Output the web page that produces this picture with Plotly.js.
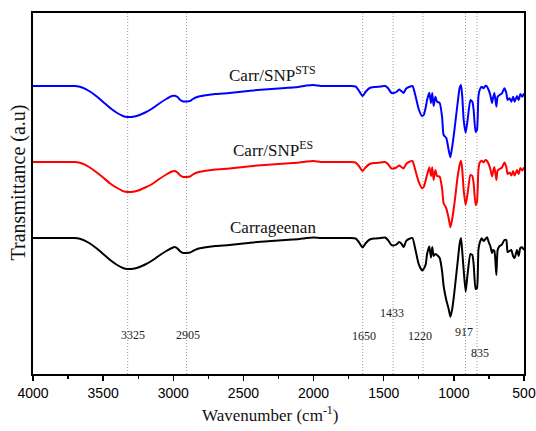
<!DOCTYPE html>
<html>
<head>
<meta charset="utf-8">
<script src="https://cdn.plot.ly/plotly-3.0.1.min.js"></script>
<style>html,body{margin:0;padding:0;background:#fff;}#chart{width:536px;height:431px;}</style>
</head>
<body>
<div id="chart"></div>
<script>
// Wavenumber grid (cm^-1)
const wavenumber = [4000,3900,3800,3700,3650,3600,3550,3500,3450,3400,3350,3325,3300,3250,3200,3150,3100,3050,3010,2990,2970,2950,2930,2905,2880,2860,2830,2780,2700,2600,2500,2400,2300,2200,2150,2100,2050,2000,1950,1900,1800,1740,1700,1680,1650,1630,1600,1570,1520,1490,1470,1445,1430,1410,1390,1375,1358,1340,1320,1295,1275,1251,1227,1215,1200,1191,1175,1163,1154,1144,1132,1120,1101,1084,1073,1054,1037,1025,1013,1002,990,973,959,949,940,930,916,902,882,868,859,845,835,825,816,802,788,775,763,752,740,728,721,711,697,688,674,657,640,626,617,603,590,578,567,550,538,526,512,500];

// Transmittance (a.u., stacked)
const carrSNP_STS = [288,288,288,288,286.5,283,278,272,266,261,257.5,257,257,258.5,261.5,265.5,270.5,275,278,278.3,277,274,272.5,272.5,273,275,277,278.5,280,281,282.5,284,285,286,286.5,287.3,288.5,289,288,288,288,288,287.5,284,278,282,286,287,287.5,288,286,281,281,282,284.5,283,281,285.5,287,288,279,265,258,259,267,274,281.3,271,281,268,277.3,272.3,271,257.3,239,236,224,216.7,226,237.3,251,271,286,289,277.3,254,241.3,254,274,272.3,264,242,244,277.3,284,287.3,285.7,288.3,287.3,284,279,271,276,281,267.3,277.3,279,280.7,285.7,281,274,275.7,272.3,277.3,272.3,278,274,280,277.3,280.7];

const carrSNP_ES = [212,212,212,212,210.5,207,202,196.5,190.5,186,182.5,182,182,183.5,186.5,190,195,199.5,202.5,203,201.5,198.5,197,197,197.5,199.5,201.5,203,204.5,205.5,207,208.5,209.5,210.5,211,211.5,212.5,213,212,212,212,212,211.5,208.5,203,206.5,210,211,211.5,212,210,205.5,205.5,206.5,208.5,207,205.5,210,212,213,204,192.3,185.7,187,194,199,206.7,198,206.7,194,204,198,197.3,185.7,170.7,165.7,155.7,146.7,154,164,177.3,197.3,209,213.3,204,184,169,180.7,199,198,190.7,169,172.3,204,211.3,213.3,211.7,214,213,210,205,197.5,202,207,194,203.5,205,206.5,211.5,207,200,201.5,198.5,203,198.5,204,200,206,203.5,206.5];

const carrageenan = [136,136,136,136,134.5,131,126,120,114,109,105.5,105,105,106.5,109.5,113.5,118.5,123,126,127,125.5,122.5,121,121,121.5,123,125,126.5,128,129,130.5,132,133,134,134.5,135,136,136.5,136,136,136,136,135.5,132.5,126.5,130.5,134.5,135.5,136,136.5,134,129,128.5,129.5,132,130.5,127,133,135,136,125,110,103.5,105,110,120,127.5,116.5,127,118,120,119,116,103,88,74,65,57.3,64,75,90,112,130,136,122,104,82.3,100,120,119,110,85,86,124,131,135.7,133,135,136.7,132,128,121,124,123,99,124,128,129.5,134,134,122,123,124,118,116,124,118,126,126.5,124];

const seriesNames = ["Carr/SNP<sup>STS</sup>", "Carr/SNP<sup>ES</sup>", "Carrageenan"];
const seriesColors = ["#0000ff", "#ff0000", "#000000"];
const seriesLabelY = [300, 225, 147];

// Marked band positions and their label heights
const bands = [3325, 2905, 1650, 1433, 1220, 917, 835];
const bandLabelY = [39, 39, 38.3, 61.3, 38, 42.3, 21.3];
const bandLabelShift = [5, 1, 1.5, -1.5, -3, -2, 2.5];

const xTicks = [4000, 3500, 3000, 2500, 2000, 1500, 1000, 500];

const seriesData = [carrSNP_STS, carrSNP_ES, carrageenan];
const traces = seriesData.map((ys, i) => ({
  type: "scatter", mode: "lines",
  x: wavenumber, y: ys,
  line: {color: seriesColors[i], width: 2, shape: "spline", smoothing: 0.5},
  hoverinfo: "skip", showlegend: false
}));

const serif = "Liberation Serif, Times New Roman, serif";

const shapes = bands.map(b => ({
  type: "line", xref: "x", yref: "paper", x0: b, x1: b, y0: 0, y1: 1,
  line: {color: "#999999", width: 1, dash: "1px,2px"}, layer: "below"
}));

const annotations = [];
bands.forEach((b, i) => annotations.push({
  x: b, y: bandLabelY[i], xref: "x", yref: "y", text: String(b),
  showarrow: false, xshift: bandLabelShift[i],
  xanchor: "center", yanchor: "middle",
  font: {family: serif, size: 12, color: "#222"}
}));
seriesNames.forEach((n, i) => annotations.push({
  x: 2290, y: seriesLabelY[i], xref: "x", yref: "y", text: n,
  showarrow: false, xanchor: "center", yanchor: "middle",
  font: {family: serif, size: 17, color: "#111"}
}));
annotations.push({
  x: (270 - 33) / 491, y: -0.111, xref: "paper", yref: "paper",
  xanchor: "center", yanchor: "middle",
  text: "Wavenumber (cm<sup>-1</sup>)", showarrow: false,
  font: {family: serif, size: 17, color: "#111"}
});
annotations.push({
  x: -0.029, y: 0.53, xref: "paper", yref: "paper",
  xanchor: "center", yanchor: "middle",
  text: "Transmittance (a.u)", textangle: -90, showarrow: false,
  font: {family: serif, size: 20, color: "#111"}
});

const layout = {
  width: 536, height: 431,
  margin: {l: 33, r: 12, t: 13, b: 57},
  paper_bgcolor: "#ffffff", plot_bgcolor: "#ffffff",
  xaxis: {
    range: [4000, 500], tickvals: xTicks, ticktext: xTicks.map(String),
    ticks: "outside", ticklen: 5, tickwidth: 1.5, tickcolor: "#000",
    minor: {dtick: 250, tick0: 500, ticks: "outside", ticklen: 3, tickwidth: 1.2, tickcolor: "#000"},
    showline: true, linewidth: 2, linecolor: "#000", mirror: true,
    showgrid: false, zeroline: false,
    tickfont: {family: "Liberation Sans, Arial, sans-serif", size: 14, color: "#000"}
  },
  yaxis: {
    range: [0, 361], showticklabels: false, ticks: "",
    showline: true, linewidth: 2, linecolor: "#000", mirror: true,
    showgrid: false, zeroline: false
  },
  shapes: shapes,
  annotations: annotations
};

Plotly.newPlot("chart", traces, layout, {staticPlot: true, displayModeBar: false});
</script>
</body>
</html>
